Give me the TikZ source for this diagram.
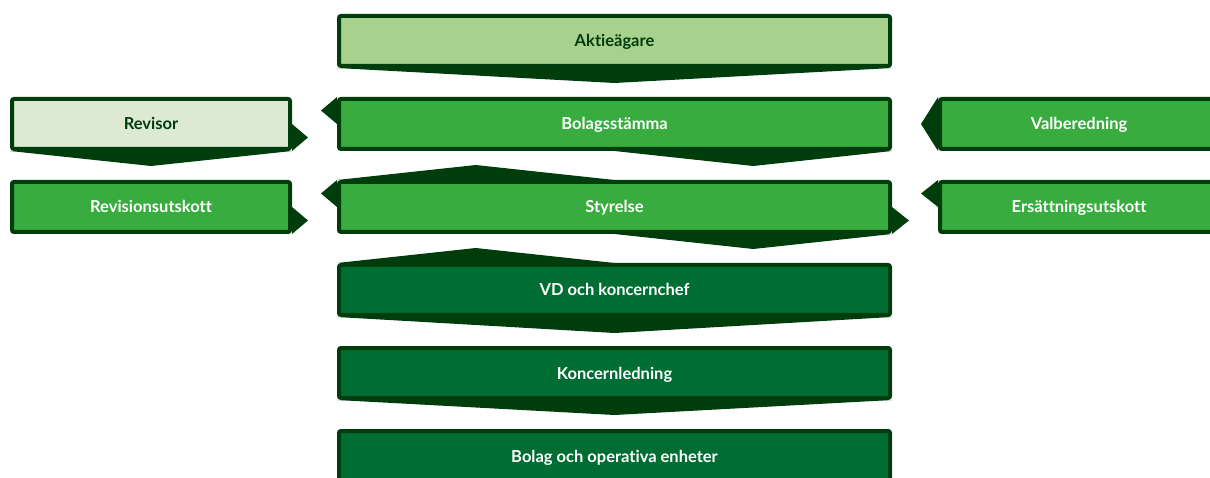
\documentclass[tikz,border=0pt]{standalone}
\usepackage{fontspec}
\setmainfont{Lato}[Ligatures=NoCommon]
\usetikzlibrary{calc, positioning}
\definecolor{rim}{HTML}{003D0C}
\definecolor{pale}{HTML}{A9D18E}
\definecolor{faint}{HTML}{DCEAD3}
\definecolor{mid}{HTML}{38AC3F}
\definecolor{deep}{HTML}{006E33}
\begin{document}
\begin{tikzpicture}[x=1pt, y=-1pt,
      b/.style={draw=rim, line width=4pt, rounded corners=2pt, minimum height=50pt, text=white,
        text height=12pt, text depth=0pt, font=\fontsize{16.5}{18}\selectfont\bfseries},
      c/.style={b, minimum width=551pt},
      s/.style={b, minimum width=278pt},
      p/.style={fill=rim}]
      \useasboundingbox (0,0) rectangle (1210,478);
      \clip (0,0) rectangle (1210,478);

      % centre column
      \node[c, fill=pale, text=rim] (akt) at (614.5,41) {Aktieägare};
      \node[c, fill=mid, below=29pt of akt] (bol) {Bolagsstämma};
      \node[c, fill=mid, below=29pt of bol] (sty) {Styrelse};
      \node[c, fill=deep, below=29pt of sty] (vd) {VD och koncernchef};
      \node[c, fill=deep, below=29pt of vd] (kon) {Koncernledning};
      \node[c, fill=deep, below=29pt of kon] (bop) {Bolag och operativa enheter};

      % side boxes
      \node[s, fill=faint, text=rim, left=45pt of bol] (rev) {Revisor};
      \node[s, fill=mid, below=29pt of rev] (rvu) {Revisionsutskott};
      \node[s, fill=mid, right=46pt of bol] (val) {Valberedning};
      \node[s, fill=mid, below=29pt of val] (ers) {Ersättningsutskott};

      % pointers down
      \fill[p] (akt.south west) -- (akt.south east) -- ([yshift=-15pt]akt.south) -- cycle;
      \fill[p] (bol.south) -- (bol.south east) -- ([yshift=-15pt]$(bol.south)!0.5!(bol.south east)$) -- cycle;
      \fill[p] (sty.south) -- (sty.south east) -- ([yshift=-15pt]$(sty.south)!0.5!(sty.south east)$) -- cycle;
      \fill[p] (vd.south west) -- (vd.south east) -- ([yshift=-16pt]vd.south) -- cycle;
      \fill[p] (kon.south west) -- (kon.south east) -- ([yshift=-15pt]kon.south) -- cycle;
      \fill[p] (rev.south west) -- (rev.south east) -- ([yshift=-15pt]rev.south) -- cycle;

      % pointers up
      \fill[p] (sty.north west) -- (sty.north) -- ([yshift=15pt]$(sty.north west)!0.5!(sty.north)$) -- cycle;
      \fill[p] (vd.north west) -- (vd.north) -- ([yshift=15pt]$(vd.north west)!0.5!(vd.north)$) -- cycle;

      % pointers sideways
      \fill[p] (rev.east) -- (rev.south east) -- ([xshift=16pt]$(rev.east)!0.5!(rev.south east)$) -- cycle;
      \fill[p] (rvu.east) -- (rvu.south east) -- ([xshift=16pt]$(rvu.east)!0.5!(rvu.south east)$) -- cycle;
      \fill[p] (sty.east) -- (sty.south east) -- ([xshift=17pt]$(sty.east)!0.5!(sty.south east)$) -- cycle;
      \fill[p] (bol.north west) -- (bol.west) -- ([xshift=-16pt]$(bol.north west)!0.5!(bol.west)$) -- cycle;
      \fill[p] (sty.north west) -- (sty.west) -- ([xshift=-16pt]$(sty.north west)!0.5!(sty.west)$) -- cycle;
      \fill[p] (val.north west) -- (val.south west) -- ([xshift=-17pt]val.west) -- cycle;
      \fill[p] (ers.north west) -- (ers.west) -- ([xshift=-17pt]$(ers.north west)!0.5!(ers.west)$) -- cycle;
    \end{tikzpicture}
\end{document}
